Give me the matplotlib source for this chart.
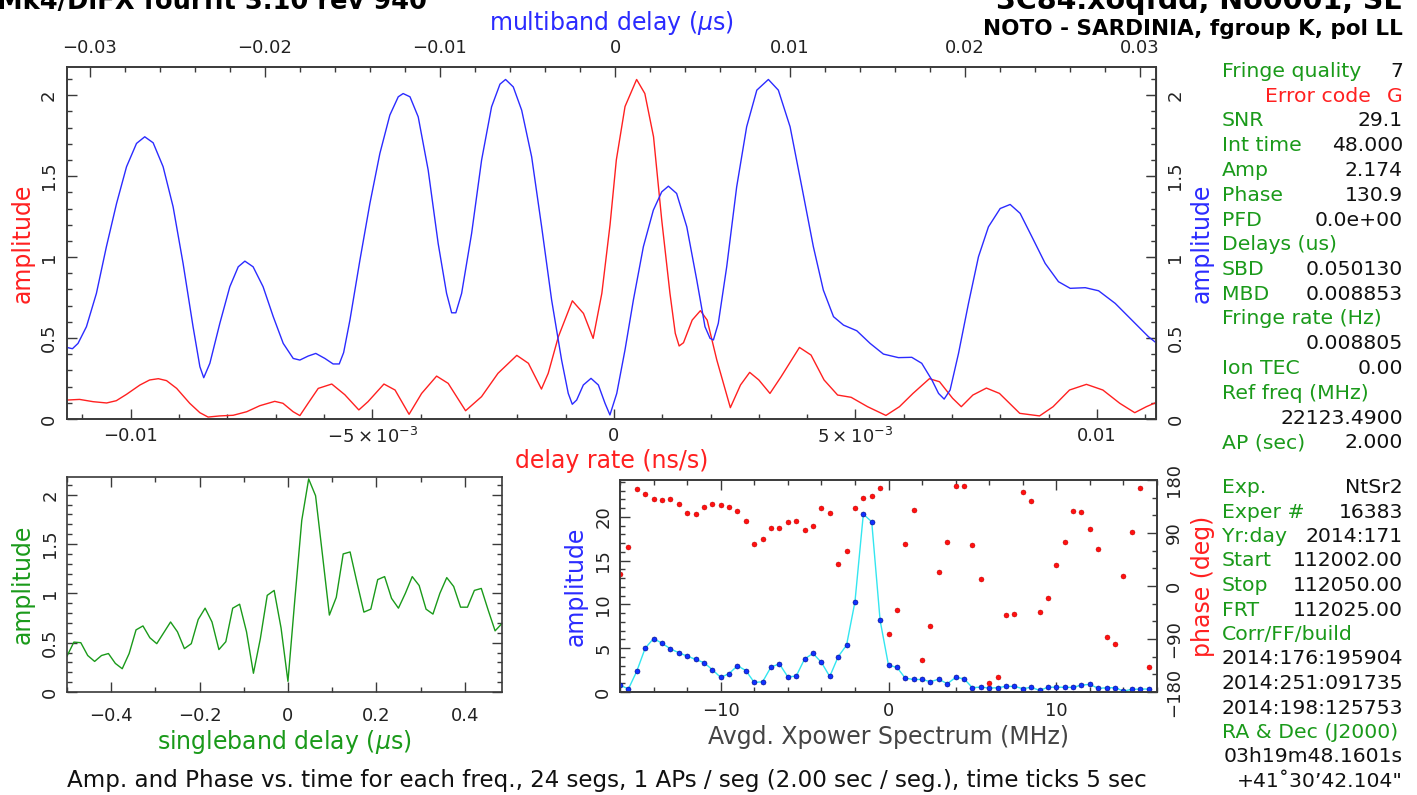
import numpy as np
import matplotlib
matplotlib.use("Agg")
import matplotlib.pyplot as plt
from matplotlib.ticker import MultipleLocator, FixedLocator, FixedFormatter

W, H = 1417, 795
GREEN = "#1a9a1a"
RED = "#ff2020"
BLUE = "#2b2bff"
FRAME = "#3a3a3a"
AXFONT = "DejaVu Sans"
INFOFONT = "DejaVu Sans"
LABSIZE = 17
TICKSIZE = 13

# delay rate spectrum (ns/s in units of 1e-3, amplitude)
rate_e3 = [-11.32, -11.06, -10.78, -10.50, -10.30, -10.09, -9.81, -9.61, -9.43, -9.26,
           -9.05, -8.78, -8.57, -8.40, -8.16, -7.88, -7.60, -7.33, -7.02, -6.85,
           -6.64, -6.50, -6.33, -6.12, -5.84, -5.57, -5.28, -5.09, -4.76, -4.53,
           -4.24, -3.98, -3.67, -3.43, -3.07, -2.74, -2.40, -2.01, -1.77, -1.50,
           -1.36, -1.15, -0.86, -0.63, -0.43, -0.25, -0.08, 0.05, 0.23, 0.47,
           0.64, 0.82, 0.99, 1.16, 1.27, 1.35, 1.44, 1.62, 1.79, 1.93,
           2.13, 2.41, 2.62, 2.81, 3.00, 3.23, 3.46, 3.84, 4.08, 4.35,
           4.63, 4.91, 5.25, 5.63, 5.91, 6.19, 6.53, 6.74, 7.01, 7.19,
           7.43, 7.71, 7.98, 8.40, 8.81, 9.09, 9.43, 9.78, 10.12, 10.47,
           10.78, 11.02, 11.26]
rate_amp = [0.117, 0.121, 0.107, 0.099, 0.113, 0.152, 0.210, 0.241, 0.249, 0.237,
            0.189, 0.097, 0.039, 0.012, 0.019, 0.023, 0.045, 0.082, 0.109, 0.097,
            0.045, 0.021, 0.097, 0.189, 0.216, 0.150, 0.056, 0.107, 0.216, 0.179,
            0.029, 0.158, 0.265, 0.220, 0.051, 0.138, 0.282, 0.393, 0.344, 0.185,
            0.282, 0.508, 0.730, 0.652, 0.498, 0.776, 1.200, 1.600, 1.930, 2.097,
            2.010, 1.743, 1.228, 0.776, 0.529, 0.451, 0.471, 0.611, 0.669, 0.611,
            0.364, 0.070, 0.210, 0.288, 0.241, 0.158, 0.261, 0.442, 0.395, 0.241,
            0.148, 0.134, 0.076, 0.022, 0.076, 0.158, 0.249, 0.230, 0.128, 0.076,
            0.148, 0.191, 0.158, 0.035, 0.019, 0.076, 0.179, 0.214, 0.179, 0.097,
            0.039, 0.076, 0.107]

# multiband delay function (us in units of 1e-3, amplitude)
mbd_e3 = [-31.30, -30.99, -30.67, -30.19, -29.62, -29.05, -28.47, -27.90, -27.33, -26.86,
          -26.38, -25.81, -25.24, -24.67, -24.10, -23.71, -23.49, -23.14, -22.57, -22.00,
          -21.52, -21.14, -20.67, -20.10, -19.52, -18.95, -18.38, -18.00, -17.52, -17.09,
          -16.57, -16.10, -15.75, -15.50, -15.14, -14.57, -14.00, -13.43, -12.86, -12.38,
          -12.10, -11.71, -11.24, -10.67, -10.10, -9.62, -9.33, -9.09, -8.76, -8.19,
          -7.62, -7.05, -6.57, -6.25, -5.81, -5.33, -4.76, -4.19, -3.62, -3.05,
          -2.67, -2.44, -2.19, -1.81, -1.37, -0.95, -0.57, -0.29, 0.10, 0.57,
          1.05, 1.62, 2.19, 2.67, 3.05, 3.52, 4.10, 4.67, 5.14, 5.43,
          5.62, 5.90, 6.38, 6.95, 7.52, 8.10, 8.76, 9.33, 10.00, 10.67,
          11.33, 11.90, 12.48, 13.05, 13.81, 14.57, 15.33, 16.19, 16.95, 17.52,
          18.10, 18.48, 18.80, 19.14, 19.62, 20.19, 20.76, 21.33, 22.00, 22.57,
          23.14, 23.81, 24.57, 25.33, 26.00, 26.86, 27.62, 28.57, 29.52, 30.47,
          30.95]
mbd_amp = [0.442, 0.434, 0.467, 0.570, 0.776, 1.064, 1.331, 1.558, 1.702, 1.743,
           1.706, 1.558, 1.311, 0.961, 0.570, 0.323, 0.255, 0.344, 0.591, 0.817,
           0.940, 0.975, 0.940, 0.817, 0.632, 0.467, 0.374, 0.364, 0.389, 0.405,
           0.374, 0.340, 0.340, 0.410, 0.611, 0.981, 1.331, 1.640, 1.877, 1.990,
           2.010, 1.990, 1.866, 1.537, 1.084, 0.776, 0.656, 0.656, 0.776, 1.146,
           1.599, 1.928, 2.068, 2.097, 2.051, 1.907, 1.619, 1.187, 0.735, 0.364,
           0.158, 0.091, 0.117, 0.210, 0.251, 0.210, 0.097, 0.025, 0.158, 0.426,
           0.735, 1.064, 1.290, 1.403, 1.438, 1.393, 1.187, 0.858, 0.570, 0.498,
           0.488, 0.591, 0.940, 1.434, 1.805, 2.031, 2.097, 2.031, 1.805, 1.434,
           1.064, 0.796, 0.632, 0.580, 0.545, 0.467, 0.401, 0.379, 0.381, 0.344,
           0.241, 0.158, 0.123, 0.179, 0.405, 0.714, 1.002, 1.187, 1.300, 1.325,
           1.270, 1.126, 0.961, 0.848, 0.807, 0.811, 0.792, 0.714, 0.611, 0.508,
           0.467]

# singleband delay function, 64 lags from -0.5 us
sbd_amp = [0.364, 0.506, 0.500, 0.370, 0.310, 0.370, 0.390, 0.290, 0.236, 0.390,
           0.630, 0.670, 0.550, 0.490, 0.600, 0.710, 0.610, 0.440, 0.490, 0.735,
           0.850, 0.710, 0.430, 0.510, 0.850, 0.890, 0.610, 0.190, 0.540, 0.980,
           1.030, 0.650, 0.108, 0.940, 1.740, 2.160, 1.990, 1.390, 0.780, 0.960,
           1.400, 1.420, 1.110, 0.810, 0.840, 1.140, 1.170, 0.950, 0.850, 1.000,
           1.170, 1.080, 0.840, 0.790, 1.000, 1.160, 1.070, 0.860, 0.860, 1.030,
           1.050, 0.830, 0.620, 0.695]

# averaged cross-power spectrum, 64 channels from -16 MHz
xp_amp = [0.79, 0.34, 2.37, 5.00, 6.10, 5.57, 4.93, 4.48, 4.10, 3.73,
          3.35, 2.56, 1.66, 2.10, 3.00, 2.45, 1.09, 1.17, 2.86, 3.20,
          1.73, 1.81, 3.77, 4.40, 3.39, 1.77, 4.03, 5.35, 10.28, 20.30,
          19.43, 8.17, 3.05, 2.82, 1.58, 1.43, 1.43, 1.17, 1.47, 0.94,
          1.66, 1.51, 0.49, 0.56, 0.45, 0.49, 0.64, 0.64, 0.38, 0.53,
          0.19, 0.53, 0.56, 0.53, 0.53, 0.79, 0.87, 0.41, 0.49, 0.49,
          0.11, 0.30, 0.34, 0.34]
xp_phase = [20, 66, 165, 156, 147, 146, 148, 139, 124, 123,
            134, 139, 137, 135, 127, 110, 71, 79, 99, 99,
            108, 110, 95, 102, 132, 124, 38, 59, 132, 149,
            153, 166, -82, -40, 72, 129, -125, -68, 23, 74,
            170, 170, 69, 12, -165, -155, -50, -47, 160, 144,
            -44, -21, 35, 74, 127, 126, 97, 63, -87, -99,
            17, 92, 167, -137]

info_top = [("Fringe quality", "7"), ("Error code", "G"), ("SNR", "29.1"),
            ("Int time", "48.000"), ("Amp", "2.174"), ("Phase", "130.9"),
            ("PFD", "0.0e+00"), ("Delays (us)", ""), ("SBD", "0.050130"),
            ("MBD", "0.008853"), ("Fringe rate (Hz)", ""), ("", "0.008805"),
            ("Ion TEC", "0.00"), ("Ref freq (MHz)", ""), ("", "22123.4900"),
            ("AP (sec)", "2.000")]
info_bottom = [("Exp.", "NtSr2"), ("Exper #", "16383"), ("Yr:day", "2014:171"),
               ("Start", "112002.00"), ("Stop", "112050.00"), ("FRT", "112025.00"),
               ("Corr/FF/build", ""), ("", "2014:176:195904"), ("", "2014:251:091735"),
               ("", "2014:198:125753"), ("RA & Dec (J2000)", ""), ("", "03h19m48.1601s"),
               ("", "+41\u02da30\u201942.104\"")]

rate = np.array(rate_e3) * 1e-3
mbd = np.array(mbd_e3) * 1e-3
sbd_x = np.arange(-32, 32) / 64.0
xp_freq = np.arange(-32, 32) * 0.5


def box(l, t, r, b):
    return [l / W, 1 - b / H, (r - l) / W, (b - t) / H]


def style(ax):
    for s in ax.spines.values():
        s.set_color(FRAME)
        s.set_linewidth(1.2)
    ax.tick_params(which="both", direction="in", colors=FRAME, labelcolor="#222222",
                   labelsize=TICKSIZE)
    ax.tick_params(which="major", length=7, width=1.0)
    ax.tick_params(which="minor", length=3.5, width=1.0)
    for lab in ax.get_xticklabels() + ax.get_yticklabels():
        lab.set_family(AXFONT)


def rot_ylabels(ax):
    for lab in ax.get_yticklabels():
        lab.set_rotation(90)
        lab.set_va("center")
        lab.set_ha("center")


fig = plt.figure(figsize=(W / 100, H / 100), dpi=100)

# ---- top panel: delay rate (red) and multiband delay (blue)
ax = fig.add_axes(box(67, 67, 1156, 419))
ax.plot(rate, rate_amp, color=RED, lw=1.0)
ax.set_xlim(-0.01132, 0.01122)
ax.set_ylim(0, 2.174)
ax.xaxis.set_major_locator(FixedLocator([-0.01, -0.005, 0, 0.005, 0.01]))
ax.xaxis.set_major_formatter(FixedFormatter(["\u22120.01", r"$-5\times10^{-3}$", "0",
                                             r"$5\times10^{-3}$", "0.01"]))
ax.xaxis.set_minor_locator(MultipleLocator(0.001))
ax.yaxis.set_major_locator(FixedLocator([0, 0.5, 1, 1.5, 2]))
ax.yaxis.set_major_formatter(FixedFormatter(["0", "0.5", "1", "1.5", "2"]))
ax.yaxis.set_minor_locator(MultipleLocator(0.1))
ax.tick_params(axis="y", which="both", left=True, right=True)
style(ax)
ax.tick_params(axis="x", pad=6)
ax.tick_params(axis="y", pad=13)
rot_ylabels(ax)
ax.set_xlabel("delay rate (ns/s)", color=RED, family=AXFONT, fontsize=LABSIZE, labelpad=1)
ax.set_ylabel("amplitude", color=RED, family=AXFONT, fontsize=LABSIZE, labelpad=4)

axt = ax.twiny()
axt.plot(mbd, mbd_amp, color=BLUE, lw=1.0)
axt.set_xlim(-0.0313, 0.0309)
axt.xaxis.set_major_locator(FixedLocator([-0.03, -0.02, -0.01, 0, 0.01, 0.02, 0.03]))
axt.xaxis.set_major_formatter(FixedFormatter(["\u22120.03", "\u22120.02", "\u22120.01", "0",
                                              "0.01", "0.02", "0.03"]))
axt.xaxis.set_minor_locator(MultipleLocator(0.002))
style(axt)
axt.tick_params(axis="x", pad=7)
axt.set_xlabel("multiband delay ($\\mu$s)", color=BLUE, family=AXFONT, fontsize=LABSIZE,
               labelpad=7)

axr = ax.secondary_yaxis("right")
axr.yaxis.set_major_locator(FixedLocator([0, 0.5, 1, 1.5, 2]))
axr.yaxis.set_major_formatter(FixedFormatter(["0", "0.5", "1", "1.5", "2"]))
axr.yaxis.set_minor_locator(MultipleLocator(0.1))
axr.tick_params(which="both", direction="in", colors=FRAME, labelcolor="#222222",
                labelsize=TICKSIZE, pad=14)
axr.tick_params(which="major", length=7)
axr.tick_params(which="minor", length=3.5)
for lab in axr.get_yticklabels():
    lab.set_rotation(90)
    lab.set_va("center")
    lab.set_ha("center")
    lab.set_family(AXFONT)
axr.set_ylabel("amplitude", color=BLUE, family=AXFONT, fontsize=LABSIZE, labelpad=4)

# ---- bottom left: singleband delay
axs = fig.add_axes(box(67, 477, 502, 692))
axs.plot(sbd_x, sbd_amp, color=GREEN, lw=1.0)
axs.set_xlim(-0.5, 0.484375)
axs.set_ylim(0, 2.18)
axs.xaxis.set_major_locator(FixedLocator([-0.4, -0.2, 0, 0.2, 0.4]))
axs.xaxis.set_major_formatter(FixedFormatter(["\u22120.4", "\u22120.2", "0", "0.2", "0.4"]))
axs.xaxis.set_minor_locator(MultipleLocator(0.1))
axs.yaxis.set_major_locator(FixedLocator([0, 0.5, 1, 1.5, 2]))
axs.yaxis.set_major_formatter(FixedFormatter(["0", "0.5", "1", "1.5", "2"]))
axs.yaxis.set_minor_locator(MultipleLocator(0.1))
axs.tick_params(which="both", top=True, right=True)
style(axs)
axs.tick_params(axis="x", pad=11)
axs.tick_params(axis="y", pad=12)
rot_ylabels(axs)
axs.set_xlabel("singleband delay ($\\mu$s)", color=GREEN, family=AXFONT, fontsize=LABSIZE,
               labelpad=2)
axs.set_ylabel("amplitude", color=GREEN, family=AXFONT, fontsize=LABSIZE, labelpad=5)

# ---- bottom right: cross-power spectrum amplitude and phase
axp = fig.add_axes(box(620, 480, 1157, 692))
axp.plot(xp_freq, xp_amp, color="#33e6f0", lw=1.0, zorder=2)
axp.plot(xp_freq, xp_amp, "o", color="#1030ff", ms=3.6, mec="#000a80", mew=0.4, zorder=3)
axp.set_xlim(-16, 16)
axp.set_ylim(0, 24.2)
axp.xaxis.set_major_locator(FixedLocator([-10, 0, 10]))
axp.xaxis.set_major_formatter(FixedFormatter(["\u221210", "0", "10"]))
axp.xaxis.set_minor_locator(MultipleLocator(2))
axp.yaxis.set_major_locator(FixedLocator([0, 5, 10, 15, 20]))
axp.yaxis.set_major_formatter(FixedFormatter(["0", "5", "10", "15", "20"]))
axp.yaxis.set_minor_locator(MultipleLocator(1))
axp.tick_params(which="both", top=True)
style(axp)
axp.tick_params(axis="x", pad=7)
axp.tick_params(axis="y", pad=12)
rot_ylabels(axp)
axp.set_xlabel("Avgd. Xpower Spectrum (MHz)", color="#444444", family=AXFONT,
               fontsize=LABSIZE, labelpad=4)
axp.set_ylabel("amplitude", color=BLUE, family=AXFONT, fontsize=LABSIZE, labelpad=5)

axph = axp.twinx()
axph.plot(xp_freq, xp_phase, "o", color="#ff1010", ms=3.6, mec="#b00000", mew=0.3)
axph.set_ylim(-180, 180)
axph.yaxis.set_major_locator(FixedLocator([-180, -90, 0, 90, 180]))
axph.yaxis.set_major_formatter(FixedFormatter(["\u2212180", "\u221290", "0", "90", "180"]))
axph.yaxis.set_minor_locator(MultipleLocator(30))
style(axph)
axph.tick_params(axis="y", pad=12)
for lab in axph.get_yticklabels():
    lab.set_rotation(90)
    lab.set_va("center")
    lab.set_ha("center")
axph.set_ylabel("phase (deg)", color=RED, family=AXFONT, fontsize=LABSIZE, labelpad=6)

# ---- header text
fig.text(-3 / W, 1 - 9 / H, "Mk4/DiFX fourfit 3.10 rev 940", family=INFOFONT,
         weight="bold", fontsize=18.5, va="baseline", ha="left")
fig.text(1402 / W, 1 - 9 / H, "3C84.xoqfdd, No0001, SL", family=INFOFONT,
         weight="bold", fontsize=20.5, va="baseline", ha="right")
fig.text(1403 / W, 1 - 35 / H, "NOTO - SARDINIA, fgroup K, pol LL", family=INFOFONT,
         weight="bold", fontsize=15.5, va="baseline", ha="right")

# ---- fit summary column
INFOSIZE = 14.7


def info_line(y, label, value, lcolor=GREEN, lx=1222):
    if label:
        fig.text(lx / W, 1 - y / H, label, family=INFOFONT, fontsize=INFOSIZE,
                 color=lcolor, va="baseline", ha="left")
    if value:
        fig.text(1403 / W, 1 - y / H, value, family=INFOFONT, fontsize=INFOSIZE,
                 color="#111111", va="baseline", ha="right")


y0 = 77.0
for i, (lab, val) in enumerate(info_top):
    y = y0 + i * 24.75
    if lab == "Error code":
        fig.text(1371 / W, 1 - y / H, lab, family=INFOFONT, fontsize=INFOSIZE, color=RED,
                 va="baseline", ha="right")
        fig.text(1403 / W, 1 - y / H, val, family=INFOFONT, fontsize=INFOSIZE, color=RED,
                 va="baseline", ha="right")
    else:
        info_line(y, lab, val)

y1 = 493.0
for i, (lab, val) in enumerate(info_bottom):
    info_line(y1 + i * 24.5, lab, val)

fig.text(67 / W, 1 - 787 / H,
         "Amp. and Phase vs. time for each freq., 24 segs, 1 APs / seg (2.00 sec / seg.), "
         "time ticks 5 sec", family=INFOFONT, fontsize=16.6, color="#111111",
         va="baseline", ha="left")

fig.savefig("out.png", dpi=100)
